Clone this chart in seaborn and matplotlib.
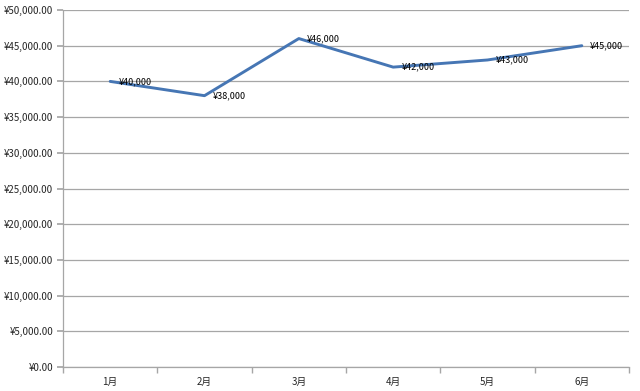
import matplotlib
matplotlib.use("Agg")
import matplotlib.pyplot as plt
import seaborn as sns
import pandas as pd
from matplotlib.ticker import FuncFormatter, FixedLocator, MultipleLocator

months = ["1月", "2月", "3月", "4月", "5月", "6月"]
sales = [40000, 38000, 46000, 42000, 43000, 45000]
point_labels = ["¥40,000", "¥38,000", "¥46,000", "¥42,000", "¥43,000", "¥45,000"]

sns.set_theme(style="white")
plt.rcParams['font.family'] = ['Noto Sans CJK SC', 'DejaVu Sans']

df = pd.DataFrame({"month": months, "sales": sales})

fig = plt.figure(figsize=(6.4, 3.91), dpi=100)
ax = fig.add_axes([63/640, 1-367/391, (629-63)/640, (367-10)/391])

sns.lineplot(data=df, x="month", y="sales", sort=False, ax=ax,
             color="#4676B4", linewidth=2.1)

for i, (v, lab) in enumerate(zip(sales, point_labels)):
    ax.annotate(lab, (i, v), xytext=(6, 0), textcoords="offset points",
                ha="left", va="center", fontsize=6.5, color="#000000")

ax.set_ylim(0, 50000)
ax.set_xlim(-0.5, 5.5)
ax.yaxis.set_major_locator(MultipleLocator(5000))
ax.yaxis.set_major_formatter(FuncFormatter(lambda v, p: f"¥{v:,.2f}"))
ax.grid(axis="y", color="#A6A6A6", linewidth=0.9)
ax.set_axisbelow(True)

ax.set_xticks(range(len(months)))
ax.set_xticklabels(months)
ax.xaxis.set_minor_locator(FixedLocator([i - 0.5 for i in range(len(months) + 1)]))
ax.tick_params(axis="x", which="major", length=0, labelsize=7, pad=7)
ax.tick_params(axis="x", which="minor", length=4, color="#A6A6A6", direction="out", bottom=True)
ax.tick_params(axis="y", which="major", length=4, color="#A6A6A6", direction="out", left=True, labelsize=7, pad=3)

for s in ["top", "right"]:
    ax.spines[s].set_visible(False)
for s in ["left", "bottom"]:
    ax.spines[s].set_color("#A6A6A6")
    ax.spines[s].set_linewidth(0.9)

ax.set_xlabel("")
ax.set_ylabel("")

fig.savefig("out.png", dpi=100)
